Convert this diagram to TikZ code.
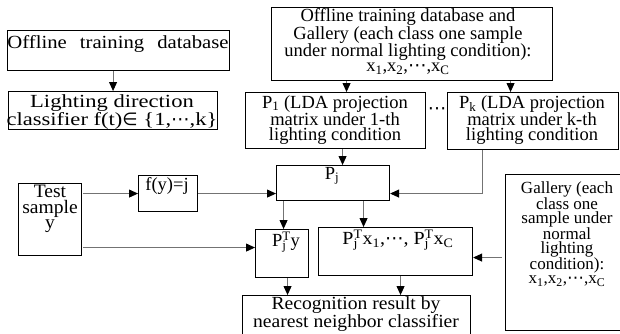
\documentclass[tikz,border=0pt]{standalone}
\usepackage{fontspec}
\setmainfont{Liberation Serif}
\newfontfamily\symf{DejaVu Sans}
\usetikzlibrary{arrows.meta}

% size, line spacing, horizontal stretch
\newcommand{\tf}[3]{\fontsize{#1}{#2}\selectfont\addfontfeature{FakeStretch=#3}}
\newcommand{\sbj}{\rlap{\textsubscript{j}}\textsuperscript{T}}
\newcommand{\cds}{{\symf\char"22EF}}
\newcommand{\elem}{{\symf\addfontfeature{Scale=0.95}\char"2208}}

\tikzset{
  box/.style={draw, line width=1.1bp, inner sep=0pt, anchor=north west},
  txt/.style={align=center, inner sep=0pt, anchor=north,
              font=\tf{18.5bp}{15bp}{1}},
  conn/.style={line width=0.9bp, draw=black!55,
               -{Triangle[length=9bp,width=8bp,color=black]}},
}

\begin{document}
\begin{tikzpicture}[x=1bp, y={(0bp,-1bp)}]
\useasboundingbox (0,0) rectangle (620,333);
\clip (0,0) rectangle (620,333);

% boxes
\node[box, minimum width=222bp, minimum height=40bp] (db1) at (7,30) {};
\node[box, minimum width=209bp, minimum height=38bp] (ldc) at (8,91) {};
\node[box, minimum width=281bp, minimum height=73bp] (db2) at (271,7) {};
\node[box, minimum width=180bp, minimum height=56bp] (p1) at (245,92) {};
\node[box, minimum width=171bp, minimum height=57bp] (pk) at (447,92) {};
\node[box, minimum width=113bp, minimum height=35bp] (pj) at (276,165) {};
\node[box, minimum width=63bp, minimum height=72bp] (test) at (18,183) {};
\node[box, minimum width=59bp, minimum height=36bp] (fy) at (138,175) {};
\node[box, minimum width=53bp, minimum height=48bp] (pjty) at (255,229) {};
\node[box, minimum width=154bp, minimum height=48bp] (pjtx) at (318,227) {};
\node[box, minimum width=228bp, minimum height=50bp] (rec) at (242,295) {};
\node[box, minimum width=125bp, minimum height=156bp] (gal) at (505,174) {};

% texts
\node[txt, font=\tf{18.5bp}{15bp}{1.12}] (db1t) at (118,35)
  {Offline\hspace{13bp}training\hspace{13bp}database};
\node[txt, font=\tf{18.5bp}{16bp}{1.22}] (ldct) at (112,94)
  {Lighting direction\\classifier f(t)\elem\ \{1,\cds,k\}};
\node[txt, font=\tf{18.5bp}{14.6bp}{1}] (db2t) at (408,8)
  {Offline training database and\\Gallery (each class one sample\\under normal lighting condition):\\x\textsubscript{1},x\textsubscript{2},\cds,x\textsubscript{C}};
\node[txt] (p1t) at (335,95) {P\textsubscript{1} (LDA projection\\matrix under 1-th\\lighting condition};
\node[txt] (pkt) at (532,95) {P\textsubscript{k} (LDA projection\\matrix under k-th\\lighting condition};
\node[txt, anchor=center] (dots) at (437,111) {\cds};
\node[txt] (pjt) at (332,167) {P\textsubscript{j}};
\node[txt, font=\tf{19bp}{15.5bp}{1.03}] (testt) at (50,185) {Test\\sample\\y};
\node[txt] (fyt) at (167,177) {f(y)=j};
\node[txt] (pjtyt) at (286,232) {P\sbj y};
\node[txt, font=\tf{18.5bp}{15bp}{1.08}] (pjtxt) at (398,230)
  {P\sbj x\textsubscript{1},\cds, P\sbj x\textsubscript{C}};
\node[txt, font=\tf{18.5bp}{16bp}{1.06}] (rect) at (356,296)
  {Recognition result by\\nearest neighbor classifier};
\node[txt, font=\tf{17bp}{13.8bp}{1}] (galt) at (567,181)
  {Gallery (each\\class one\\sample under\\normal\\lighting\\condition):\\x\textsubscript{1},x\textsubscript{2},\cds,x\textsubscript{C}};

% connectors
\draw[conn] (ldc.north |- db1.south) -- (ldc.north);
\coordinate (a1) at ([xshift=11bp]p1.north);
\draw[conn] (a1 |- db2.south) -- (a1);
\coordinate (a2) at ([xshift=-22.5bp]pk.north);
\draw[conn] (a2 |- db2.south) -- (a2);
\coordinate (a3) at ([xshift=7bp]p1.south);
\draw[conn] (a3) -- (a3 |- pj.north);
\coordinate (a4) at ([xshift=-50.5bp]pk.south);
\coordinate (a5) at ([yshift=-10.5bp]pj.east);
\draw[conn] (a4) |- (a5);
\coordinate (a12) at ([xshift=1bp]test.east |- fy.west);
\draw[conn] (a12) -- (fy.west);
\draw[conn] (fy.east) -- (fy.east -| pj.west);
\coordinate (a6) at ([yshift=6bp]pjty.west);
\coordinate (a13) at ([xshift=1bp]test.east |- a6);
\draw[conn] (a13) -- (a6);
\coordinate (a7) at ([xshift=-49.5bp]pj.south);
\draw[conn] (a7) -- (a7 |- pjty.north);
\coordinate (a8) at ([xshift=30.5bp]pj.south);
\draw[conn] (a8) -- (a8 |- pjtx.north);
\coordinate (a9) at ([xshift=5.5bp]pjty.south);
\draw[conn] (a9) -- (a9 |- rec.north);
\coordinate (a10) at ([xshift=5bp]pjtx.south);
\draw[conn] (a10) -- (a10 |- rec.north);
\coordinate (a11) at ([yshift=-5bp,xshift=-3bp]gal.west);
\draw[conn] (a11) -- (a11 -| pjtx.east);
\end{tikzpicture}
\end{document}
